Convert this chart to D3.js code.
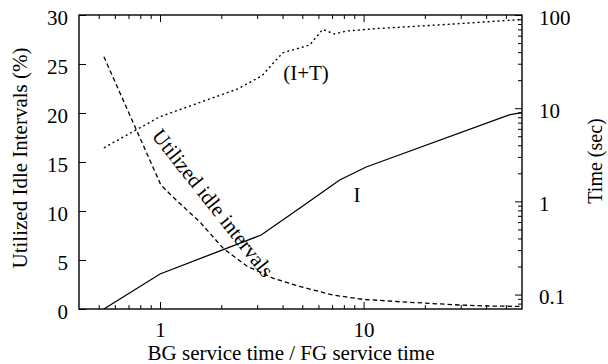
<!DOCTYPE html>
<html>
<head>
<meta charset="utf-8">
<script src="https://cdn.jsdelivr.net/npm/d3@7"></script>
<style>
  html, body { margin: 0; padding: 0; background: #fff; }
  svg { display: block; }
  text { font-family: "Liberation Serif", "Times New Roman", serif; fill: #000; }
</style>
</head>
<body>
<svg id="chart" width="608" height="364"></svg>
<script>
// ---- Data ----
// (I+T) dotted curve, right axis (Time, sec)
const itX = [0.53, 1.0, 2.41, 3.16, 4.0, 5.44, 6.29, 7.2, 8.25, 11.7, 26.4, 59.5];
const itY = [3.76, 8.1, 16.1, 22.2, 39.2, 47.7, 70.0, 62.5, 67.3, 71.6, 79.5, 89.5];
// I solid curve, left axis scale
const iX = [0.53, 1.0, 3.14, 4.85, 7.63, 10.3, 51.9, 59.5];
const iY = [0, 3.57, 7.55, 10.28, 13.16, 14.49, 19.8, 20.03];
// Utilized idle intervals dashed curve, left axis (%)
const uX = [0.53, 1.01, 1.2, 1.57, 2.06, 2.67, 3.58, 4.85, 7.05, 9.87, 15.05, 29.5, 39.9, 59.5];
const uY = [25.74, 12.65, 11.12, 8.88, 6.12, 4.39, 3.16, 2.30, 1.43, 0.99, 0.74, 0.41, 0.31, 0.26];

// Tick labels
const leftTicks = [0, 5, 10, 15, 20, 25, 30];
const rightTicks = [0.1, 1, 10, 100];
const rightTickLabels = ["0.1", "1", "10", "100"];
const xTicks = [1, 10];
const xTickLabels = ["1", "10"];
const xMinor = [0.5, 0.6, 0.7, 0.8, 0.9, 2, 3, 4, 5, 6, 7, 8, 9, 20, 30, 40, 50];
const rMinor = [0.08, 0.09, 0.2, 0.3, 0.4, 0.5, 0.6, 0.7, 0.8, 0.9, 2, 3, 4, 5, 6, 7, 8, 9, 20, 30, 40, 50, 60, 70, 80, 90];

// ---- Layout ----
const W = 608, H = 364;
const m = { left: 79, top: 15, right: 86, bottom: 55 };
const x0 = m.left, x1 = W - m.right, y0 = H - m.bottom, y1 = m.top;

const svg = d3.select("#chart");
const FS = 21;

const x = d3.scaleLog().domain([0.4, 60]).range([x0, x1]);
const yL = d3.scaleLinear().domain([0, 30]).range([y0, y1]);
const yR = d3.scaleLog().domain([0.07, 100]).range([y0, y1]);

function styleAxis(g) {
  g.select(".domain").remove();
  g.selectAll("line").attr("stroke", "#000").attr("stroke-width", 1);
  g.selectAll("text").attr("font-size", FS).attr("font-family", '"Liberation Serif", "Times New Roman", serif').attr("fill", "#000");
}

// Left axis
svg.append("g").attr("transform", `translate(${x0},0)`)
  .call(d3.axisLeft(yL).tickValues(leftTicks).tickSize(-7).tickPadding(11).tickFormat(d3.format("d")))
  .call(styleAxis)
  .call(g => g.selectAll("text").attr("dy", "0.43em"));

// Right axis (log)
svg.append("g").attr("transform", `translate(${x1},0)`)
  .call(d3.axisRight(yR).tickValues(rightTicks).tickSize(-7).tickPadding(17).tickFormat((d, i) => rightTickLabels[i]))
  .call(styleAxis)
  .call(g => g.selectAll("text").attr("dy", "0.43em"));
svg.append("g").attr("transform", `translate(${x1},0)`)
  .call(d3.axisRight(yR).tickValues(rMinor).tickSize(-4).tickFormat(""))
  .call(styleAxis);

// Bottom axis
svg.append("g").attr("transform", `translate(0,${y0})`)
  .call(d3.axisBottom(x).tickValues(xTicks).tickSize(-7).tickPadding(13).tickFormat((d, i) => xTickLabels[i]))
  .call(styleAxis);
svg.append("g").attr("transform", `translate(0,${y0})`)
  .call(d3.axisBottom(x).tickValues(xMinor).tickSize(-4).tickFormat(""))
  .call(styleAxis);

// Top axis (mirrored ticks)
svg.append("g").attr("transform", `translate(0,${y1})`)
  .call(d3.axisTop(x).tickValues(xTicks).tickSize(-7).tickFormat(""))
  .call(styleAxis);
svg.append("g").attr("transform", `translate(0,${y1})`)
  .call(d3.axisTop(x).tickValues(xMinor).tickSize(-4).tickFormat(""))
  .call(styleAxis);

// Frame
svg.append("rect")
  .attr("x", x0).attr("y", y1).attr("width", x1 - x0).attr("height", y0 - y1)
  .attr("fill", "none").attr("stroke", "#000").attr("stroke-width", 1.4);

// Curves
const itData = itX.map((v, i) => [v, itY[i]]);
const iData = iX.map((v, i) => [v, iY[i]]);
const uData = uX.map((v, i) => [v, uY[i]]);

svg.append("path").datum(itData)
  .attr("fill", "none").attr("stroke", "#000").attr("stroke-width", 1.4)
  .attr("stroke-dasharray", "2,3")
  .attr("d", d3.line().x(d => x(d[0])).y(d => yR(d[1])));

svg.append("path").datum(iData)
  .attr("fill", "none").attr("stroke", "#000").attr("stroke-width", 1.3)
  .attr("d", d3.line().x(d => x(d[0])).y(d => yL(d[1])));

svg.append("path").datum(uData)
  .attr("fill", "none").attr("stroke", "#000").attr("stroke-width", 1.3)
  .attr("stroke-dasharray", "4.5,3")
  .attr("d", d3.line().x(d => x(d[0])).y(d => yL(d[1])));

// In-plot labels
svg.append("text").attr("x", 306).attr("y", 80).attr("text-anchor", "middle")
  .attr("font-size", FS).text("(I+T)");
svg.append("text").attr("x", 357).attr("y", 202).attr("text-anchor", "middle")
  .attr("font-size", FS).text("I");
svg.append("text").attr("transform", "translate(151,136) rotate(51.7)")
  .attr("font-size", FS).text("Utilized idle intervals");

// Axis titles
svg.append("text").attr("x", 291).attr("y", 360).attr("text-anchor", "middle")
  .attr("font-size", FS).text("BG service time / FG service time");
svg.append("text").attr("transform", "translate(27,158) rotate(-90)").attr("text-anchor", "middle")
  .attr("font-size", FS).text("Utilized Idle Intervals (%)");
svg.append("text").attr("transform", "translate(602,161) rotate(-90)").attr("text-anchor", "middle")
  .attr("font-size", 20).text("Time (sec)");
</script>
</body>
</html>
